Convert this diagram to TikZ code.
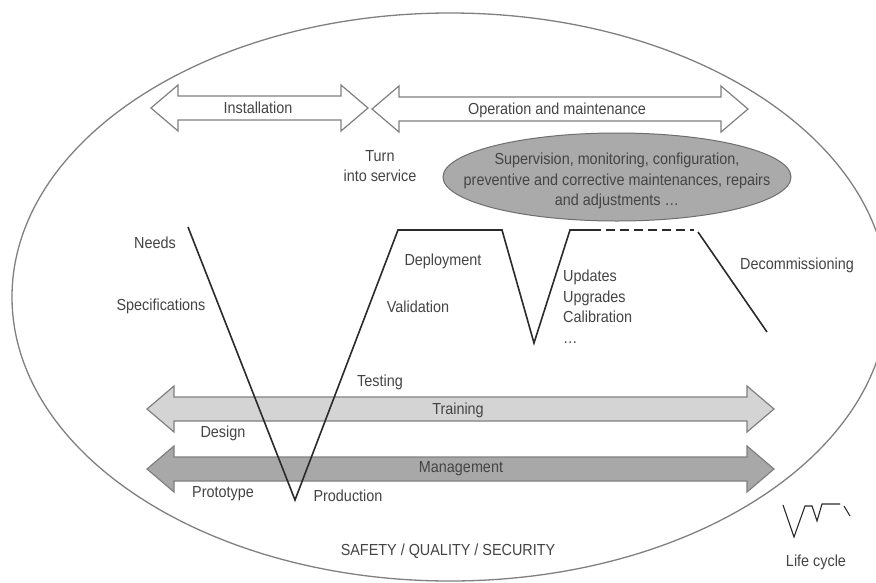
\documentclass[tikz,border=0pt]{standalone}
\usepackage{fontspec}
\setmainfont{Liberation Sans}[FakeStretch=0.9]
\definecolor{txt}{HTML}{444444}
\definecolor{lineC}{HTML}{2A2A2A}
\definecolor{outC}{HTML}{808080}
\definecolor{trainF}{HTML}{D4D4D4}
\definecolor{mgmtF}{HTML}{A8A8A8}
\definecolor{supF}{HTML}{AAAAAA}
\definecolor{supD}{HTML}{6E6E6E}
\newcommand\mydarrow[4]{%
  \draw[#4] (#1,#3) -- ++(27,-23) -- ++(0,11) -- ({#2-27},{#3-12}) -- ++(0,-11) -- (#2,#3)
    -- ({#2-27},{#3+23}) -- ++(0,-11) -- ({#1+27},{#3+12}) -- ++(0,11) -- cycle;}
\begin{document}
\begin{tikzpicture}[x=1pt,y=-1pt,
  lbl/.style={font=\fontsize{16}{20.5}\selectfont, text=txt, inner sep=0pt},
  outer/.style={draw=outC, line width=1.3pt},
  arrw/.style={draw=outC, line width=1.2pt, line join=miter, fill=white},
  arrtrain/.style={arrw, fill=trainF},
  arrmgmt/.style={arrw, fill=mgmtF},
  vline/.style={draw=lineC, line width=1.6pt, line join=miter},
  iconline/.style={draw=lineC, line width=1.1pt}]
\useasboundingbox (0,0) rectangle (876,582);
\clip (0,0) rectangle (876,582);
\fill[white] (0,0) rectangle (876,582);
% outer ellipse
\draw[outer] (450,297) ellipse [x radius=438, y radius=284];
% top arrows
\mydarrow{151}{368}{108}{arrw}
\mydarrow{372}{748}{109}{arrw}
% bottom arrows
\mydarrow{147}{774}{409}{arrtrain}
\mydarrow{147}{774}{469}{arrmgmt}
% supervision ellipse
\draw[draw=supD, line width=1pt, fill=supF] (617,177) ellipse [x radius=174, y radius=44];
% V shape
\coordinate (vN) at (188,227);
\coordinate (vP) at (295,500);
\coordinate (vT) at (398,230);
\coordinate (vD) at (502,230);
\coordinate (vU) at (534,343);
\coordinate (vR) at (570,230);
\coordinate (vS) at (592,230);
\coordinate (vE) at (694,230);
\coordinate (vC1) at (698,232);
\coordinate (vC2) at (767,332);
\draw[vline] (vN) -- (vP) -- (vT) -- (vD) -- (vU) -- (vR) -- (vS);
\draw[vline, line width=1.5pt, dash pattern=on 9pt off 5pt] (vS) -- (vE);
\draw[vline] (vC1) -- (vC2);
% labels
\node[lbl] (inst) at (258,108) {Installation};
\node[lbl] (oper) at (557,110) {Operation and maintenance};
\node[lbl, align=center] (turn) at (380,166) {Turn\\into service};
\node[lbl, align=center] (sup) at (617,181) {Supervision, monitoring, configuration,\\preventive and corrective maintenances, repairs\\and adjustments \dots};
\node[lbl] (needs) at (155,243) {Needs};
\node[lbl] (spec) at (161,306) {Specifications};
\node[lbl] (depl) at (443,261) {Deployment};
\node[lbl] (valid) at (418,307) {Validation};
\node[lbl, align=left, anchor=north west] (upd) at (563,270) {Updates\\Upgrades\\Calibration\\\dots};
\node[lbl] (decom) at (797,265) {Decommissioning};
\node[lbl] (test) at (380,382) {Testing};
\node[lbl] (train) at (458,410) {Training};
\node[lbl] (mgmt) at (461,469) {Management};
\node[lbl] (design) at (223,433) {Design};
\node[lbl] (proto) at (223,494) {Prototype};
\node[lbl] (prod) at (348,496) {Production};
\node[lbl] (safety) at (448,551) {SAFETY / QUALITY / SECURITY};
% life cycle icon
\coordinate (i1) at (783,505);
\coordinate (i2) at (794,537);
\coordinate (i3) at (805,506);
\coordinate (i4) at (812,506);
\coordinate (i5) at (817,521);
\coordinate (i6) at (822,504);
\coordinate (i7) at (840,504);
\coordinate (i8) at (844,506);
\coordinate (i9) at (850,516);
\draw[iconline] (i1) -- (i2) -- (i3) -- (i4) -- (i5) -- (i6) -- (i7);
\draw[iconline] (i8) -- (i9);
\node[lbl] (life) at (816,562) {Life cycle};
\end{tikzpicture}
\end{document}
